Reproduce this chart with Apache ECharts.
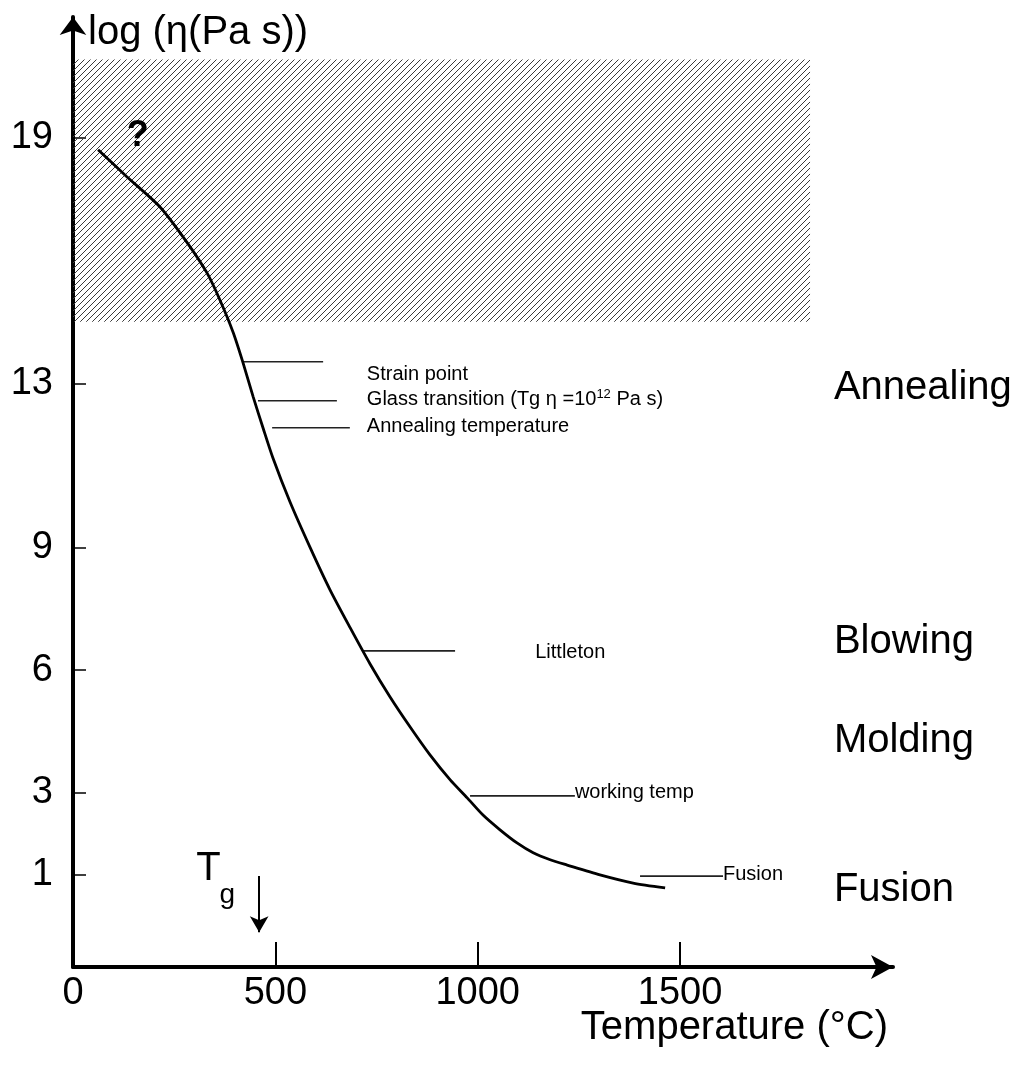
<!DOCTYPE html>
<html>
<head>
<meta charset="utf-8">
<title>Viscosity of glass vs temperature</title>
<script src="https://cdn.jsdelivr.net/npm/echarts@6/dist/echarts.min.js"></script>
<style>
  html, body { margin: 0; padding: 0; background: #fff; }
  #chart { width: 1021px; height: 1070px; }
</style>
</head>
<body>
<div id="chart"></div>
<script>
// viscosity curve: temperature (°C) -> log(eta / Pa s)
const temps   = [62, 133, 215, 282, 331, 363, 396, 420, 445, 470, 494, 536, 586, 635, 685, 734, 783, 833, 882, 932, 974, 1013, 1055, 1097, 1137, 1179, 1221, 1302, 1384, 1463];
const logVisc = [18.71, 18.05, 17.31, 16.44, 15.70, 15.04, 14.24, 13.51, 12.68, 11.90, 11.18, 10.11, 8.99, 7.96, 7.03, 6.15, 5.35, 4.61, 3.93, 3.32, 2.88, 2.46, 2.10, 1.78, 1.54, 1.37, 1.24, 1.00, 0.80, 0.68];

// reference levels (short horizontal lines)
const refNames  = ['Strain point', 'Glass transition', 'Annealing temperature', 'Littleton', 'working temp', 'Fusion'];
const refLevels = [13.53, 12.58, 11.92, 6.47, 2.93, 0.97];
const refFrom   = [420, 457, 492, 717, 981, 1401];
const refTo     = [618, 652, 684, 944, 1240, 1606];

// process zones on the right
const zoneNames  = ['Annealing', 'Blowing', 'Molding', 'Fusion'];
const zoneLevels = [12.89, 6.69, 4.27, 0.63];

// unknown (hatched) region
const hatchTemp = [0, 1821];
const hatchLog  = [14.51, 20.91];

// Tg marker
const tgTemp = 460;

const xTicks = [0, 500, 1000, 1500];
const yTicks = [19, 13, 9, 6, 3, 1];

const FONT = "'Liberation Sans', Arial, sans-serif";

// diagonal hatch pattern
function hatch() {
  const s = 6;
  const c = document.createElement('canvas');
  c.width = s; c.height = s;
  const g = c.getContext('2d');
  g.strokeStyle = '#3a3a3a';
  g.lineWidth = 1;
  g.beginPath();
  g.moveTo(0, s); g.lineTo(s, 0);
  g.moveTo(-1, 1); g.lineTo(1, -1);
  g.moveTo(s - 1, s + 1); g.lineTo(s + 1, s - 1);
  g.stroke();
  return { image: c, repeat: 'repeat' };
}

// label anchors for the reference texts (data coords)
const refLabelTemp = [726, 726, 726, 1142, 1240, 1606];
const refLabelLog  = [13.21, 12.60, 11.94, 6.42, 3.0, 1.0];
const zoneLabelTemp = 1880;

let myecharts = echarts.init(document.getElementById('chart'));

let series = [];

// hatched box
series.push({
  type: 'line',
  data: [],
  z: 1,
  markArea: {
    silent: true,
    itemStyle: { color: hatch() },
    data: [[{ coord: [hatchTemp[0], hatchLog[1]] }, { coord: [hatchTemp[1], hatchLog[0]] }]]
  }
});

// main curve
series.push({
  type: 'line',
  z: 5,
  smooth: 0.25,
  showSymbol: false,
  lineStyle: { color: '#000', width: 2.8 },
  data: temps.map((t, i) => [t, logVisc[i]]),
  markLine: {
    silent: true,
    symbol: ['none', 'arrow'],
    symbolSize: [14, 16],
    label: { show: false },
    lineStyle: { color: '#000', width: 2, type: 'solid' },
    data: [[{ coord: [tgTemp, 0.97] }, { coord: [tgTemp, -0.40] }]]
  }
});

// reference lines
refNames.forEach((n, i) => {
  series.push({
    type: 'line',
    z: 4,
    showSymbol: false,
    lineStyle: { color: '#222', width: 1.6 },
    data: [[refFrom[i], refLevels[i]], [refTo[i], refLevels[i]]]
  });
});

// reference texts
series.push({
  type: 'scatter',
  symbolSize: 0,
  z: 6,
  itemStyle: { opacity: 1 },
  label: {
    show: true,
    position: 'right',
    distance: 0,
    color: '#000',
    fontFamily: FONT,
    fontSize: 20,
    formatter: p => p.name === 'Glass transition'
      ? '{n|Glass transition (Tg η =10}{s|12}{n| Pa s)}'
      : '{n|' + p.name + '}',
    rich: {
      n: { fontSize: 20, lineHeight: 24, fontFamily: FONT, color: '#000' },
      s: { fontSize: 13, lineHeight: 13, verticalAlign: 'top', fontFamily: FONT, color: '#000' }
    }
  },
  data: refNames.map((n, i) => ({ name: n, value: [refLabelTemp[i], refLabelLog[i]] }))
});

// zone texts
series.push({
  type: 'scatter',
  symbolSize: 0,
  z: 6,
  itemStyle: { opacity: 1 },
  label: {
    show: true,
    position: 'right',
    distance: 0,
    color: '#000',
    fontFamily: FONT,
    fontSize: 40,
    formatter: p => p.name
  },
  data: zoneNames.map((n, i) => ({ name: n, value: [zoneLabelTemp, zoneLevels[i]] }))
});

// "?" and T_g
series.push({
  type: 'scatter',
  symbolSize: 0,
  z: 6,
  itemStyle: { opacity: 1 },
  label: {
    show: true,
    position: 'inside',
    color: '#000',
    fontFamily: FONT,
    formatter: p => p.name
  },
  data: [
    { name: '?', value: [160, 19.05], label: { fontSize: 36, fontWeight: 'bold' } },
    { name: 'T', value: [335, 1.14], label: { fontSize: 40 } },
    { name: 'g', value: [381, 0.50], label: { fontSize: 28 } }
  ]
});

let option = {
  backgroundColor: '#fff',
  animation: false,
  title: [
    {
      text: 'log (η(Pa s))',
      left: 88, top: 13, padding: 0,
      textStyle: { fontFamily: FONT, fontSize: 40, fontWeight: 'normal', color: '#000' }
    },
    {
      text: 'Temperature (°C)',
      right: 133, top: 1008, padding: 0,
      textStyle: { fontFamily: FONT, fontSize: 40, fontWeight: 'normal', color: '#000' }
    }
  ],
  grid: { left: 73, top: 17, width: 820, height: 950, outerBoundsMode: 'none' },
  xAxis: {
    type: 'value',
    min: 0,
    max: 2026,
    splitLine: { show: false },
    axisLine: {
      show: true,
      onZero: false,
      symbol: ['none', 'arrow'],
      symbolSize: [18, 22],
      lineStyle: { color: '#000', width: 4 }
    },
    axisTick: {
      show: true, inside: true, length: 25,
      customValues: [500, 1000, 1500],
      lineStyle: { color: '#000', width: 2 }
    },
    axisLabel: {
      customValues: xTicks,
      margin: 8,
      color: '#000',
      fontFamily: FONT,
      fontSize: 38,
      formatter: v => String(v)
    }
  },
  yAxis: {
    type: 'value',
    min: -1.25,
    max: 21.95,
    splitLine: { show: false },
    axisLine: {
      show: true,
      onZero: false,
      symbol: ['none', 'arrow'],
      symbolSize: [20, 18],
      lineStyle: { color: '#000', width: 4 }
    },
    axisTick: {
      show: true, inside: true, length: 13,
      customValues: yTicks,
      lineStyle: { color: '#000', width: 1.5 }
    },
    axisLabel: {
      customValues: yTicks,
      margin: 20,
      color: '#000',
      fontFamily: FONT,
      fontSize: 38,
      formatter: v => String(v)
    }
  },
  series: series
};

myecharts.setOption(option);
</script>
</body>
</html>
